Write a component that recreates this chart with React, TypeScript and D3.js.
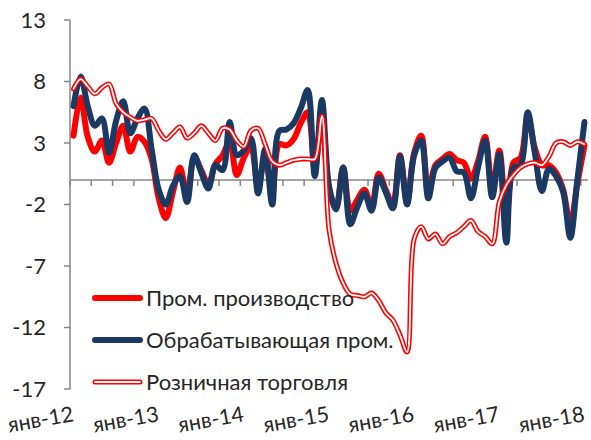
import React from 'react';
import * as d3 from 'd3';

// monthly, Jan 2012 .. Jan 2018 (73 points), % y/y
const ipValues = [
  3.6, 6.7, 3.5, 2.3, 3.2, 1.4, 3.0, 4.4, 2.3, 3.5, 3.1, 1.7,
  -1.5, -3.1, -1.0, 1.0, -1.3, 1.8, 0.8, -0.4, 1.3, 2.0, 3.1, 0.4,
  1.8, 2.7, -0.5, 2.0, -1.2, 2.9, 2.8, 3.3, 4.6, 5.5, 0.9, 5.2,
  -0.8, -2.2, 1.0, -2.5, -1.6, -0.8, -2.2, 0.5, -0.8, -2.0, 2.0, -1.8,
  2.2, 3.6, -1.0, 1.2, 1.7, 2.1, 1.6, 1.4, 0.1, 1.5, 3.5, -0.8,
  2.4, -3.1, 1.4, 1.8, 5.2, 2.6, 1.2, 1.2, 0.6, -0.8, -3.6, -0.3,
  2.8,
];

const mfgValues = [
  6.0, 8.4, 6.0, 4.4, 5.0, 2.2, 4.8, 6.4, 3.8, 5.0, 5.8, 2.5,
  -0.8, -2.0, -0.5, 0.3, -1.8, 2.0, 0.6, -0.7, 1.2, 0.8, 4.7, 2.0,
  2.4, 3.4, -1.1, 2.5, -2.0, 4.0, 4.1, 4.6, 5.8, 7.3, 0.3, 6.5,
  -0.5, -2.4, 1.0, -3.6, -2.2, -1.1, -2.5, 0.2, -1.0, -2.3, 1.9, -2.0,
  2.0, 3.2, -1.5, 1.0, 1.5, 1.8, 0.7, 0.6, -1.5, 1.0, 3.2, -1.4,
  2.1, -5.1, 1.0, 1.2, 5.5, 2.2, -0.9, 0.9, 0.3, -1.0, -4.7, 0.0,
  4.7,
];

const retailValues = [
  7.4, 8.2, 7.6, 7.0, 7.5, 7.8, 6.2, 5.5, 5.1, 4.8, 4.9, 5.0,
  4.0, 3.3, 3.8, 4.3, 3.4, 3.8, 4.4, 3.8, 3.2, 4.2, 4.1, 3.2,
  2.7, 4.0, 4.2, 2.9, 1.5, 1.2, 1.4, 1.6, 1.7, 1.7, 1.7, 5.2,
  -4.0, -6.8, -8.4, -9.3, -9.4, -9.5, -9.2, -9.8, -10.8, -11.4, -12.6, -14.0,
  -4.8, -3.8, -4.8, -4.4, -5.2, -4.6, -4.3, -3.8, -3.3, -4.2, -4.6, -5.2,
  -1.8, -0.4, 0.4, 1.0, 1.3, 1.4, 1.2, 1.9, 3.0, 3.1, 2.8, 3.1,
  2.9,
];

const yTicks = [13, 8, 3, -2, -7, -12, -17];
const xLabels = ['янв-12', 'янв-13', 'янв-14', 'янв-15', 'янв-16', 'янв-17', 'янв-18'];
const seriesNames = ['Пром. производство', 'Обрабатывающая пром.', 'Розничная торговля'];

const RED = '#ff0000';
const NAVY = '#1b3a63';
const AXIS = '#868686';
const FONT = 'Lato, "Noto Sans", sans-serif';

const App: React.FC = () => {
  const width = 591;
  const height = 440;
  const n = ipValues.length;

  const x = d3.scaleLinear().domain([-0.5, n - 0.5]).range([70, 588]);
  const y = d3.scaleLinear().domain([-17, 13]).range([389, 20]);

  const line = d3.line<number>()
    .x((_, i) => x(i))
    .y(d => y(d))
    .curve(d3.curveCatmullRom.alpha(0.5));

  const tickIdx = d3.range(-0.5, n, 3);
  const y0 = y(0);

  const legendRows = [298, 340, 382];

  return (
    <svg width={width} height={height} style={{ position: 'absolute', left: 0, top: 0, background: '#fff' }}
      fontFamily={FONT}>
      {/* y axis */}
      <line x1={70} x2={70} y1={y(13)} y2={y(-17)} stroke={AXIS} strokeWidth={1.5} />
      {yTicks.map(t => (
        <g key={t}>
          <line x1={64} x2={70} y1={y(t)} y2={y(t)} stroke={AXIS} strokeWidth={1.5} />
          <text x={46} y={y(t)} dy="0.36em" textAnchor="end" fontSize={22} fill="#262626">{t}</text>
        </g>
      ))}

      {/* category axis at zero */}
      <line x1={70} x2={588} y1={y0} y2={y0} stroke={AXIS} strokeWidth={1.5} />
      {tickIdx.map(t => (
        <line key={t} x1={x(t)} x2={x(t)} y1={y0} y2={y0 + 6} stroke={AXIS} strokeWidth={1.5} />
      ))}
      {xLabels.map((lab, k) => {
        const lx = x(k * 12) + 1;
        const ly = 421;
        return (
          <text key={lab} x={lx} y={ly} textAnchor="end" fontSize={21.5} fill="#262626"
            transform={`rotate(-10, ${lx}, ${ly})`}>{lab}</text>
        );
      })}

      {/* series */}
      <path d={line(ipValues) ?? ''} fill="none" stroke={RED} strokeWidth={6} strokeLinejoin="round" strokeLinecap="round" />
      <path d={line(mfgValues) ?? ''} fill="none" stroke={NAVY} strokeWidth={6} strokeLinejoin="round" strokeLinecap="round" />
      <path d={line(retailValues) ?? ''} fill="none" stroke={RED} strokeWidth={5} strokeLinejoin="round" strokeLinecap="round" />
      <path d={line(retailValues) ?? ''} fill="none" stroke="#fff" strokeWidth={1.8} strokeLinejoin="round" strokeLinecap="round" />

      {/* legend */}
      {seriesNames.map((name, k) => {
        const ly = legendRows[k];
        return (
          <g key={name}>
            {k === 0 && <line x1={95} x2={140} y1={ly} y2={ly} stroke={RED} strokeWidth={6} strokeLinecap="round" />}
            {k === 1 && <line x1={95} x2={140} y1={ly} y2={ly} stroke={NAVY} strokeWidth={6} strokeLinecap="round" />}
            {k === 2 && (
              <>
                <line x1={95} x2={140} y1={ly} y2={ly} stroke={RED} strokeWidth={5} strokeLinecap="round" />
                <line x1={95} x2={140} y1={ly} y2={ly} stroke="#fff" strokeWidth={1.8} strokeLinecap="round" />
              </>
            )}
            <text x={146} y={ly} dy="0.36em" fontSize={22} fill="#262626">{name}</text>
          </g>
        );
      })}
    </svg>
  );
};

export default App;
